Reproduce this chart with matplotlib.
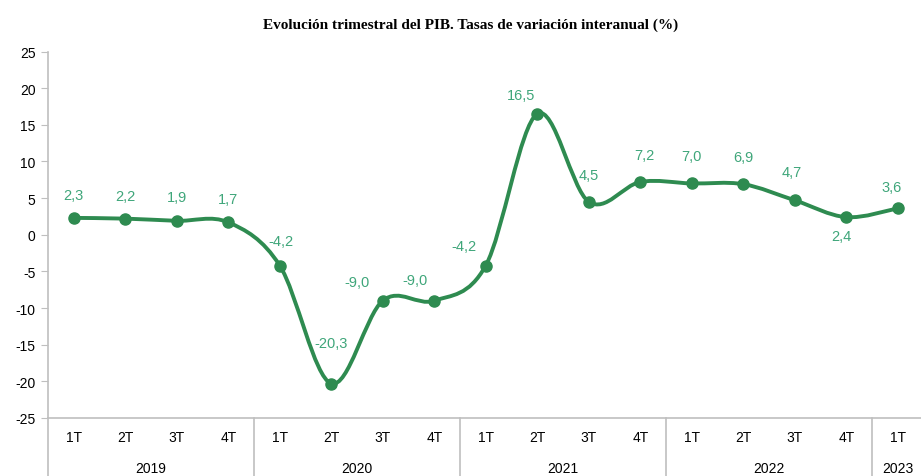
import numpy as np
import matplotlib
matplotlib.use("Agg")
import matplotlib.pyplot as plt
from matplotlib.path import Path
from matplotlib.patches import PathPatch
from matplotlib import transforms

plt.rcParams['axes.unicode_minus'] = False

# data
quarters = ['1T', '2T', '3T', '4T'] * 4 + ['1T']
years = ['2019', '2020', '2021', '2022', '2023']
year_len = [4, 4, 4, 4, 1]
pib = [2.3, 2.2, 1.9, 1.7, -4.2, -20.3, -9.0, -9.0, -4.2, 16.5,
       4.5, 7.2, 7.0, 6.9, 4.7, 2.4, 3.6]

# label offsets in pixels (dx, dy), hand placed like the original
lab_off = [(0, 23), (0, 23), (0, 24), (0, 23), (1, 25), (0, 41), (-26, 19),
           (-19, 21), (-22, 20), (-16, 19), (0, 27), (4, 27), (0, 27),
           (0, 27), (-3, 28), (-5, -19), (-6, 21)]

line_col = '#2E8B50'
lab_col = '#3FA67A'
grey = '#BFBFBF'
txt_font = ['Liberation Sans', 'DejaVu Sans']

W, H = 921, 477
fig = plt.figure(figsize=(W / 100, H / 100), dpi=100)
x0, x1 = 48, 48 + 17 * 51.5
y_top, y_bot = 52.5, 419
ax = fig.add_axes([x0 / W, (H - y_bot) / H, (x1 - x0) / W, (y_bot - y_top) / H])

x = np.arange(len(pib))
y = np.array(pib)

# smoothed line, like a spreadsheet "smoothed line" (bezier through points)
px = np.concatenate([[x[0]], x, [x[-1]]])
py = np.concatenate([[y[0]], y, [y[-1]]])
verts = [(x[0], y[0])]
codes = [Path.MOVETO]
for i in range(len(x) - 1):
    j = i + 1
    c1 = (px[j] + (px[j + 1] - px[j - 1]) / 6, py[j] + (py[j + 1] - py[j - 1]) / 6)
    c2 = (px[j + 1] - (px[j + 2] - px[j]) / 6, py[j + 1] - (py[j + 2] - py[j]) / 6)
    verts += [c1, c2, (x[j], y[j])]
    codes += [Path.CURVE4] * 3
ax.add_patch(PathPatch(Path(verts, codes), fc='none', ec=line_col, lw=2.8,
                       capstyle='round', joinstyle='round', zorder=2))
ax.plot(x, y, 'o', color=line_col, ms=8, zorder=3)

for xi, yi, (dx, dy) in zip(x, y, lab_off):
    ax.annotate(f'{yi:.1f}'.replace('.', ','), (xi, yi),
                xytext=(dx * 0.72, dy * 0.72), textcoords='offset points',
                ha='center', va='center', color=lab_col, fontsize=10.5,
                family=txt_font)

ax.set_xlim(-0.5, len(pib) - 0.5)
ax.set_ylim(-25, 25)
ax.set_yticks(range(-25, 26, 5))
ax.tick_params(axis='y', length=5, color=grey, labelsize=10, pad=4)
for lb in ax.get_yticklabels():
    lb.set_family(txt_font)
ax.set_xticks(x)
ax.set_xticklabels(quarters, family=txt_font, fontsize=10)
ax.tick_params(axis='x', length=0, pad=9)

for s in ['top', 'right']:
    ax.spines[s].set_visible(False)
for s in ['left', 'bottom']:
    ax.spines[s].set_color(grey)
    ax.spines[s].set_linewidth(1.2)

# year groups under the quarters
trans = transforms.blended_transform_factory(ax.transData, ax.transAxes)
below = -(H - y_bot) / (y_bot - y_top)
start = -0.5
for yr, n in zip(years, year_len):
    ax.plot([start, start], [0, below], color=grey, lw=1.2, transform=trans,
            clip_on=False)
    ax.text(start + n / 2, -50 / (y_bot - y_top), yr, transform=trans,
            ha='center', va='center', fontsize=10, family=txt_font)
    start += n

fig.text(471 / W, 1 - 25 / H,
         'Evolución trimestral del PIB. Tasas de variación interanual (%)',
         ha='center', va='center', fontsize=11, fontweight='bold',
         family=['Liberation Serif', 'DejaVu Serif'])

fig.savefig('out.png', dpi=100)
